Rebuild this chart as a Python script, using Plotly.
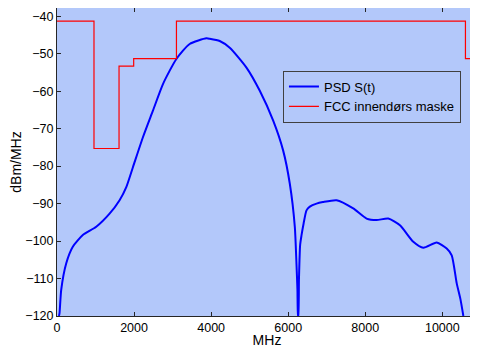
import plotly.graph_objects as go

# PSD S(t) curve (MHz, dBm/MHz)
psd_freq = [50, 65, 109, 240, 410, 670, 1018, 1364, 1624, 1798, 1970, 2230, 2490, 2750,
            3098, 3443, 3877, 3963, 4223, 4483, 4917, 5263, 5608, 5868, 6042, 6172,
            6215, 6240, 6255, 6262, 6280, 6310, 6345, 6400, 6475, 6562, 6735, 6900,
            7256, 7688, 8035, 8295, 8597, 8901, 9247, 9507, 9854, 10114, 10244,
            10374, 10470, 10546]
psd_db = [-120, -119.3, -113, -105.9, -101.5, -98.4, -96.2, -92.7, -89.1, -85.6, -80.3,
          -72.3, -65.2, -58.1, -51.4, -47.4, -45.9, -46.0, -46.6, -48.4, -53.7, -59.9,
          -67.8, -75.8, -84.7, -96.2, -106.1, -113, -120, -120, -110, -101, -98.5,
          -95.3, -91.8, -90.8, -90.0, -89.6, -89.1, -91.3, -94.0, -94.4, -94.0, -95.8,
          -100.2, -101.8, -100.4, -102.0, -103.8, -111.3, -115.5, -120]

# FCC indoor mask
mask_freq = [0, 960, 1610, 1990, 3100, 10600, 10900]
mask_db = [-41.3, -75.3, -53.3, -51.3, -41.3, -51.3, -51.3]

x_ticks = [0, 2000, 4000, 6000, 8000, 10000]
y_ticks = [-40, -50, -60, -70, -80, -90, -100, -110, -120]

fig = go.Figure()
fig.add_trace(go.Scatter(x=psd_freq, y=psd_db, mode="lines", name="PSD S(t)",
                         line=dict(color="#0000ff", width=2, shape="spline", smoothing=0.6)))
fig.add_trace(go.Scatter(x=mask_freq, y=mask_db, mode="lines", name="FCC innendørs maske",
                         line=dict(color="#ff0000", width=1.2, shape="hv")))

axis_common = dict(showgrid=False, zeroline=False, showline=True, linecolor="#262626",
                   linewidth=1, mirror="ticks", ticks="inside", ticklen=4,
                   tickcolor="#262626", tickfont=dict(size=12.5, color="black"),
                   automargin=False, tickformat="d")

# page body has an 8px margin, so the figure is sized to fit inside it
fig.update_layout(
    width=470, height=340,
    margin=dict(l=49, r=1, t=0, b=32),
    paper_bgcolor="white",
    plot_bgcolor="#b3c8fa",
    font=dict(family="Liberation Sans, Arial, sans-serif", size=12, color="black"),
    xaxis=dict(range=[0, 10900], tickvals=x_ticks, title=dict(text="MHz", standoff=1),
               **axis_common),
    yaxis=dict(range=[-120, -37.8], tickvals=y_ticks, title=dict(text="dBm/MHz", standoff=6),
               **axis_common),
    legend=dict(x=0.538, y=0.797, xanchor="left", yanchor="top",
                bgcolor="rgba(0,0,0,0)", bordercolor="#404040", borderwidth=1,
                font=dict(size=13), tracegroupgap=0, itemwidth=30),
    showlegend=True,
)

fig.write_html("out.html")
